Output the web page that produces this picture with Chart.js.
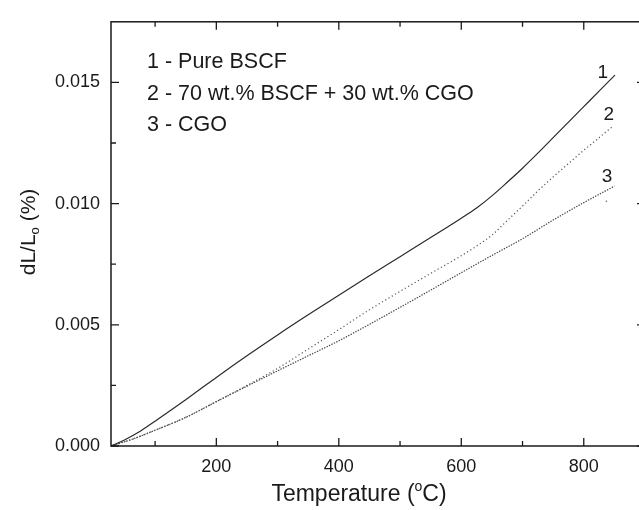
<!DOCTYPE html>
<html lang="en">
<head>
  <meta charset="UTF-8" />
  <title>Thermal expansion dL/L0 vs temperature</title>
  <script src="https://cdn.jsdelivr.net/npm/chart.js"></script>
  <style>
    html, body {
      margin: 0;
      padding: 0;
      background: #fff;
      overflow: hidden;
    }
    canvas {
      display: block;
    }
  </style>
</head>
<body>
  <canvas id="dilChart" width="660" height="510"></canvas>

  <script>
    // 1 - Pure BSCF
    const tempBscf = [28, 50, 75, 100, 125, 150, 175, 200, 250, 300, 350, 400, 450, 500, 550, 600, 625, 650, 675, 700, 725, 750, 775, 800, 825, 851];
    const dlBscf   = [0, 0.00025, 0.0006, 0.00102, 0.00146, 0.00191, 0.00237, 0.00283, 0.00372, 0.00458, 0.00541, 0.00622, 0.00702, 0.00781, 0.0086, 0.0094, 0.00982, 0.01032, 0.01088, 0.01146, 0.01208, 0.01272, 0.01336, 0.014, 0.01464, 0.0153];

    // 2 - 70 wt.% BSCF + 30 wt.% CGO
    const tempMix = [28, 65, 100, 150, 200, 250, 300, 350, 400, 450, 500, 550, 600, 625, 650, 675, 700, 725, 750, 775, 800, 825, 848];
    const dlMix   = [0, 0.0003, 0.00065, 0.00118, 0.00183, 0.0025, 0.0032, 0.004, 0.0048, 0.00562, 0.00638, 0.00712, 0.00785, 0.00825, 0.0087, 0.0093, 0.0099, 0.01052, 0.0111, 0.01165, 0.0122, 0.01272, 0.0132];

    // 3 - CGO
    const tempCgo = [28, 65, 100, 150, 200, 250, 300, 350, 400, 450, 500, 550, 600, 650, 700, 750, 800, 850];
    const dlCgo   = [0, 0.0003, 0.00065, 0.00118, 0.00183, 0.00247, 0.0031, 0.00372, 0.00434, 0.00502, 0.00572, 0.00643, 0.00715, 0.00786, 0.00855, 0.00932, 0.01004, 0.01072];
    // lone stray point under the end of curve 3
    const strayCgo = [{ x: 837, y: 0.0101 }];

    const xMajor = [200, 400, 600, 800];
    const xMinor = [100, 300, 500, 700];
    const yMajor = [0, 0.005, 0.010, 0.015];
    const yMinor = [0.0025, 0.0075, 0.0125];

    const legendLines = ['1 - Pure BSCF', '2 - 70 wt.% BSCF + 30 wt.% CGO', '3 - CGO'];
    const curveLabels = [
      { text: '1', x: 831, y: 0.0154 },
      { text: '2', x: 841, y: 0.01365 },
      { text: '3', x: 838, y: 0.01111 }
    ];

    const FONT = '"Liberation Sans", Arial, Helvetica, sans-serif';
    const INK = '#1a1a1a';

    function toPoints(xs, ys) {
      return xs.map((x, i) => ({ x: x, y: ys[i] }));
    }

    // frame, inward ticks, axis titles, in-plot legend and curve numbers
    const framePlugin = {
      id: 'frame',
      afterDraw(chart) {
        const ctx = chart.ctx;
        const a = chart.chartArea;
        const xs = chart.scales.x;
        const ys = chart.scales.y;
        ctx.save();
        ctx.strokeStyle = INK;
        ctx.lineWidth = 1.5;
        ctx.strokeRect(a.left, a.top, a.right - a.left, a.bottom - a.top);

        ctx.lineWidth = 1.3;
        ctx.beginPath();
        const xt = (v, len) => {
          const px = xs.getPixelForValue(v);
          ctx.moveTo(px, a.bottom); ctx.lineTo(px, a.bottom - len);
          ctx.moveTo(px, a.top); ctx.lineTo(px, a.top + len);
        };
        const yt = (v, len) => {
          const py = ys.getPixelForValue(v);
          ctx.moveTo(a.left, py); ctx.lineTo(a.left + len, py);
          ctx.moveTo(a.right, py); ctx.lineTo(a.right - len, py);
        };
        xMajor.forEach(v => xt(v, 8));
        xMinor.forEach(v => xt(v, 5));
        yMajor.forEach(v => yt(v, 8));
        yMinor.forEach(v => yt(v, 5));
        ctx.stroke();

        ctx.fillStyle = INK;
        ctx.textBaseline = 'alphabetic';

        // x title: Temperature (°C) with superscript o
        let big = '23px ' + FONT;
        let sup = '14px ' + FONT;
        const p1 = 'Temperature (', p2 = 'o', p3 = 'C)';
        ctx.font = big;
        const w1 = ctx.measureText(p1).width, w3 = ctx.measureText(p3).width;
        ctx.font = sup;
        const w2 = ctx.measureText(p2).width;
        let x0 = 359 - (w1 + w2 + w3) / 2;
        const base = 501;
        ctx.textAlign = 'left';
        ctx.font = big; ctx.fillText(p1, x0, base); x0 += w1;
        ctx.font = sup; ctx.fillText(p2, x0, base - 10); x0 += w2;
        ctx.font = big; ctx.fillText(p3, x0, base);

        // y title: dL/L0 (%) with subscript 0, rotated
        big = '21px ' + FONT;
        sup = '13px ' + FONT;
        ctx.save();
        ctx.translate(35, 232);
        ctx.rotate(-Math.PI / 2);
        const q1 = 'dL/L', q2 = 'o', q3 = ' (%)';
        ctx.font = big;
        const u1 = ctx.measureText(q1).width, u3 = ctx.measureText(q3).width;
        ctx.font = sup;
        const u2 = ctx.measureText(q2).width;
        let y0 = -(u1 + u2 + u3) / 2;
        ctx.font = big; ctx.fillText(q1, y0, 0); y0 += u1;
        ctx.font = sup; ctx.fillText(q2, y0, 4); y0 += u2;
        ctx.font = big; ctx.fillText(q3, y0, 0);
        ctx.restore();

        // legend text block
        ctx.font = '21.5px ' + FONT;
        ctx.textAlign = 'left';
        legendLines.forEach((t, i) => {
          ctx.fillText(t, a.left + 36, a.top + 46 + i * 31.7);
        });

        // curve numbers
        ctx.font = '19px ' + FONT;
        ctx.textAlign = 'center';
        ctx.textBaseline = 'middle';
        curveLabels.forEach(l => {
          ctx.fillText(l.text, xs.getPixelForValue(l.x), ys.getPixelForValue(l.y));
        });
        ctx.restore();
      }
    };

    const ctx = document.getElementById('dilChart').getContext('2d');
    const dilChart = new Chart(ctx, {
      type: 'scatter',
      data: {
        datasets: [
          {
            label: '1 - Pure BSCF',
            data: toPoints(tempBscf, dlBscf),
            showLine: true,
            borderColor: '#2a2a2a',
            borderWidth: 1.2,
            pointRadius: 0,
            cubicInterpolationMode: 'monotone'
          },
          {
            label: '2 - 70 wt.% BSCF + 30 wt.% CGO',
            data: toPoints(tempMix, dlMix),
            showLine: true,
            borderColor: '#555',
            borderWidth: 1.2,
            borderDash: [1.2, 2.6],
            pointRadius: 0,
            cubicInterpolationMode: 'monotone'
          },
          {
            label: '3 - CGO',
            data: toPoints(tempCgo, dlCgo),
            showLine: true,
            borderColor: '#444',
            borderWidth: 1.2,
            borderDash: [1.4, 1.3],
            pointRadius: 0,
            cubicInterpolationMode: 'monotone'
          },
          {
            label: 'stray',
            data: strayCgo,
            showLine: false,
            pointRadius: 0.8,
            pointBackgroundColor: '#666',
            pointBorderWidth: 0
          }
        ]
      },
      options: {
        responsive: false,
        animation: false,
        layout: { padding: { top: 12, right: 15, left: 0, bottom: 0 } },
        plugins: {
          legend: { display: false },
          tooltip: { enabled: false }
        },
        scales: {
          x: {
            type: 'linear',
            min: 28,
            max: 900,
            grid: { display: false, drawTicks: false },
            border: { display: false },
            afterBuildTicks: s => { s.ticks = xMajor.map(v => ({ value: v })); },
            afterFit: s => { s.height = 64; },
            ticks: {
              color: INK,
              padding: 10,
              font: { family: FONT, size: 18 },
              maxRotation: 0
            }
          },
          y: {
            type: 'linear',
            min: 0,
            max: 0.0175,
            grid: { display: false, drawTicks: false },
            border: { display: false },
            afterBuildTicks: s => { s.ticks = yMajor.map(v => ({ value: v })); },
            afterFit: s => { s.width = 111; },
            ticks: {
              color: INK,
              padding: 11,
              font: { family: FONT, size: 18 },
              callback: v => v.toFixed(3)
            }
          }
        }
      },
      plugins: [framePlugin]
    });
  </script>
</body>
</html>
